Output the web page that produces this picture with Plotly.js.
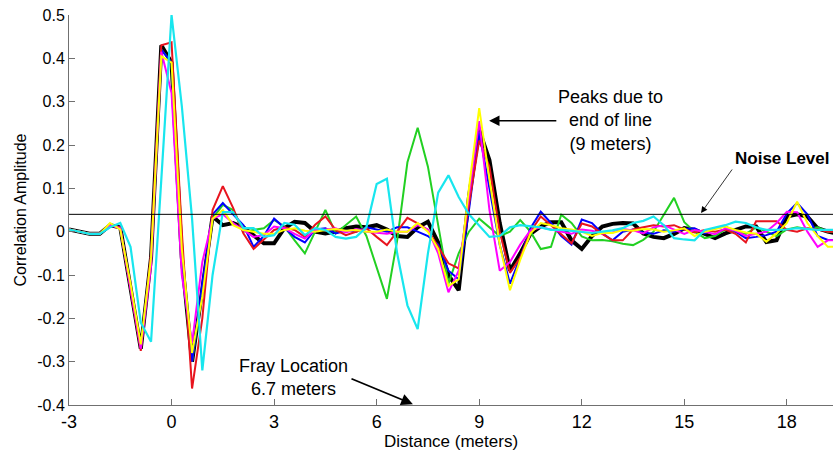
<!DOCTYPE html>
<html>
<head>
<meta charset="utf-8">
<script src="https://cdn.plot.ly/plotly-3.0.1.min.js"></script>
<style>
  html, body { margin: 0; padding: 0; background: #ffffff; }
  #chart { width: 833px; height: 451px; }
</style>
</head>
<body>
<div id="chart"></div>
<script>
// Distance (meters)
const distance = [-3.0,-2.7,-2.4,-2.1,-1.8,-1.5,-1.2,-0.9,-0.6,-0.3,0.0,0.3,0.6,0.9,1.2,1.5,1.8,2.1,2.4,2.7,
  3.0,3.3,3.6,3.9,4.2,4.5,4.8,5.1,5.4,5.7,6.0,6.3,6.6,6.9,7.2,7.5,7.8,8.1,8.4,8.7,
  9.0,9.3,9.6,9.9,10.2,10.5,10.8,11.1,11.4,11.7,12.0,12.3,12.6,12.9,13.2,13.5,13.8,14.1,14.4,14.7,
  15.0,15.3,15.6,15.9,16.2,16.5,16.8,17.1,17.4,17.7,18.0,18.3,18.6,18.9,19.2,19.5];

const blackTrace = [0.005,0.0,-0.005,-0.005,0.015,0.01,-0.13,-0.27,-0.06,0.43,0.39,-0.06,-0.30,-0.13,0.035,0.015,0.02,0.01,-0.01,-0.027,
  -0.027,0.008,0.023,0.02,0.0,-0.004,0.0,0.008,0.012,0.01,0.015,0.005,-0.01,-0.012,0.01,0.023,-0.025,-0.1,-0.135,0.08,
  0.235,0.165,0.02,-0.09,-0.05,-0.005,0.012,0.022,0.022,-0.02,-0.04,-0.01,0.012,0.018,0.02,0.019,-0.004,-0.012,-0.015,-0.005,
  0.008,0.004,-0.005,-0.015,-0.004,0.005,0.012,0.012,-0.024,-0.02,0.035,0.04,0.035,0.008,0.0,-0.005];

const blueTrace = [0.005,0.0,-0.005,-0.005,0.015,0.01,-0.13,-0.27,-0.06,0.42,0.39,-0.06,-0.30,-0.12,0.04,0.066,0.04,0.015,-0.035,-0.01,
  0.03,0.008,-0.012,-0.025,0.005,0.008,-0.004,0.002,0.0,0.01,0.005,0.0,0.01,0.01,0.0,-0.01,-0.03,-0.09,-0.11,0.05,
  0.23,0.1,-0.03,-0.12,-0.06,0.008,0.046,0.02,-0.01,-0.03,0.028,0.02,-0.004,-0.02,0.0,0.005,-0.002,-0.005,0.003,0.0,
  0.006,0.008,-0.004,0.008,0.012,0.0,-0.015,-0.012,-0.008,0.0,0.042,0.066,0.04,-0.01,-0.019,-0.02];

const redTrace = [0.005,0.0,-0.005,-0.005,0.015,0.01,-0.13,-0.275,-0.05,0.43,0.437,0.0,-0.362,-0.2,0.05,0.105,0.055,-0.004,-0.04,-0.018,
  0.004,0.01,0.004,-0.012,0.016,0.035,0.004,-0.008,0.0,0.008,-0.012,-0.031,0.0,0.032,0.019,0.004,-0.035,-0.073,-0.085,0.06,
  0.21,0.15,0.0,-0.095,-0.06,0.0,0.035,0.015,-0.005,-0.027,0.019,0.012,-0.005,-0.02,-0.02,0.005,0.01,0.015,0.012,0.015,
  0.005,-0.002,0.004,0.0,0.005,-0.005,-0.025,0.024,0.024,0.024,0.004,0.0,0.008,0.005,0.0,0.0];

const greenTrace = [0.005,0.0,-0.005,-0.005,0.015,0.01,-0.13,-0.27,-0.06,0.42,0.39,-0.06,-0.30,-0.13,0.03,0.062,0.05,0.0,0.004,0.008,
  0.027,0.012,-0.02,-0.05,0.0,0.05,-0.004,0.015,0.035,-0.01,-0.08,-0.155,-0.02,0.16,0.24,0.15,0.015,-0.12,-0.05,0.0,
  0.03,0.01,-0.01,0.0,0.027,0.0,-0.04,-0.035,0.039,0.02,-0.011,-0.02,-0.019,-0.022,-0.028,-0.031,-0.019,0.0,0.04,0.078,
  0.022,0.0,-0.015,-0.01,0.005,0.0,-0.005,0.01,0.0,-0.01,0.005,0.01,0.006,0.01,0.0,0.0];

const magentaTrace = [0.005,0.0,-0.005,-0.005,0.015,0.008,-0.13,-0.27,-0.08,0.415,0.32,-0.1,-0.257,-0.07,0.03,0.04,0.02,0.004,-0.012,-0.008,
  0.012,0.008,-0.005,-0.016,0.004,0.005,0.008,-0.002,0.006,0.0,-0.002,-0.005,0.0,0.0,0.015,0.005,-0.05,-0.14,-0.09,0.08,
  0.255,0.05,-0.09,-0.07,-0.03,0.003,0.01,0.005,0.0,-0.005,0.005,0.002,-0.004,-0.002,0.006,0.003,-0.004,0.01,0.015,0.005,
  -0.005,0.004,0.0,-0.006,0.008,0.002,-0.01,-0.005,0.0,0.02,0.046,0.045,0.0,-0.035,-0.02,-0.02];

const yellowTrace = [0.005,0.0,-0.005,-0.005,0.02,0.005,-0.12,-0.26,-0.06,0.405,0.39,-0.04,-0.28,-0.15,0.03,0.05,0.015,0.004,0.0,-0.005,
  -0.005,0.004,0.008,0.002,0.0,0.004,0.006,0.002,0.004,0.0,0.0,0.005,0.0,0.0,0.02,0.0,-0.04,-0.125,-0.11,0.1,
  0.285,0.12,-0.03,-0.135,-0.065,-0.004,0.02,0.015,0.008,0.005,0.0,-0.01,-0.003,-0.003,0.004,0.002,0.006,0.005,0.0,0.003,
  0.008,-0.01,0.0,0.006,0.012,0.004,-0.002,-0.005,-0.023,-0.004,0.02,0.069,0.02,-0.01,-0.035,-0.035];

const cyanTrace = [0.005,0.0,-0.005,-0.005,0.01,0.02,-0.035,-0.21,-0.254,0.12,0.5,0.29,0.03,-0.32,-0.1,0.045,0.045,0.008,0.008,-0.012,
  -0.008,0.02,0.016,-0.008,0.008,0.004,-0.012,-0.016,-0.012,0.01,0.11,0.122,-0.05,-0.17,-0.225,-0.05,0.09,0.13,0.08,0.04,
  0.015,-0.012,-0.01,0.01,0.015,0.012,0.01,0.004,0.004,0.002,0.0,-0.003,0.0,0.003,0.008,0.02,0.025,0.035,0.015,-0.015,
  -0.018,-0.02,0.004,0.01,0.015,0.023,0.02,0.01,0.004,0.004,0.005,0.008,0.006,0.004,0.004,0.004];

const noiseLevel = 0.04;

const xTickVals = [-3,0,3,6,9,12,15,18];
const xTickText = ['-3','0','3','6','9','12','15','18'];
const yTickVals = [-0.4,-0.3,-0.2,-0.1,0,0.1,0.2,0.3,0.4,0.5];
const yTickText = ['-0.4','-0.3','-0.2','-0.1','0','0.1','0.2','0.3','0.4','0.5'];

const series = [
  {y: blackTrace,   color: '#000000', width: 4},
  {y: greenTrace,   color: '#22d022', width: 2},
  {y: blueTrace,    color: '#0000ff', width: 2},
  {y: redTrace,     color: '#e8141e', width: 2},
  {y: magentaTrace, color: '#ff00ff', width: 2},
  {y: yellowTrace,  color: '#ffff00', width: 2},
  {y: cyanTrace,    color: '#18e6ee', width: 2.2}
];

const data = series.map(s => ({
  type: 'scatter', mode: 'lines', x: distance, y: s.y,
  line: {color: s.color, width: s.width}, hoverinfo: 'skip'
}));

const axisColor = '#707070';
const fontMain = 'Liberation Sans, Arial, sans-serif';

const layout = {
  width: 833, height: 451,
  margin: {l: 69, r: 0, t: 15, b: 46, pad: 0},
  paper_bgcolor: '#ffffff', plot_bgcolor: '#ffffff',
  showlegend: false, hovermode: false,
  xaxis: {
    range: [-3, 19.35], showgrid: false, zeroline: false,
    showline: true, linecolor: axisColor, linewidth: 1,
    ticks: 'inside', ticklen: 6, tickcolor: axisColor, tickwidth: 1,
    tickmode: 'array', tickvals: xTickVals, ticktext: xTickText,
    tickfont: {family: fontMain, size: 18, color: '#000000'},
    title: {text: 'Distance (meters)', font: {family: fontMain, size: 17, color: '#000000'}, standoff: 1}
  },
  yaxis: {
    range: [-0.4, 0.5], showgrid: false, zeroline: false,
    showline: true, linecolor: axisColor, linewidth: 1,
    ticks: 'inside', ticklen: 6, tickcolor: axisColor, tickwidth: 1,
    tickmode: 'array', tickvals: yTickVals, ticktext: yTickText,
    tickfont: {family: fontMain, size: 16, color: '#000000'},
    title: {text: 'Correlation Amplitude', font: {family: fontMain, size: 16, color: '#000000'}, standoff: 6}
  },
  shapes: [{
    type: 'line', xref: 'paper', x0: 0, x1: 1, yref: 'y', y0: noiseLevel, y1: noiseLevel,
    line: {color: '#000000', width: 1}
  }],
  annotations: [
    {
      text: 'Peaks due to<br>end of line<br>(9 meters)', xref: 'x', yref: 'y', x: 12.83, y: 0.256,
      showarrow: false, align: 'center', font: {family: fontMain, size: 18, color: '#000000'}
    },
    {
      xref: 'x', yref: 'y', axref: 'x', ayref: 'y', x: 9.29, y: 0.256, ax: 11.3, ay: 0.256,
      text: '', showarrow: true, arrowhead: 2, arrowsize: 1.3, arrowwidth: 1.6, arrowcolor: '#000000'
    },
    {
      text: '<b>Noise Level</b>', xref: 'x', yref: 'y', x: 17.86, y: 0.17,
      showarrow: false, font: {family: fontMain, size: 17, color: '#000000'}
    },
    {
      xref: 'x', yref: 'y', axref: 'x', ayref: 'y', x: 15.49, y: 0.043, ax: 16.43, ay: 0.147,
      text: '', showarrow: true, arrowhead: 2, arrowsize: 1.6, arrowwidth: 0.8, arrowcolor: '#000000'
    },
    {
      text: 'Fray Location<br>6.7 meters', xref: 'x', yref: 'y', x: 3.58, y: -0.337,
      showarrow: false, align: 'center', font: {family: fontMain, size: 18, color: '#000000'}
    },
    {
      xref: 'x', yref: 'y', axref: 'x', ayref: 'y', x: 7.06, y: -0.398, ax: 5.22, ay: -0.338,
      text: '', showarrow: true, arrowhead: 2, arrowsize: 1.3, arrowwidth: 1.8, arrowcolor: '#000000'
    }
  ]
};

Plotly.newPlot('chart', data, layout, {displayModeBar: false, staticPlot: true});
</script>
</body>
</html>
